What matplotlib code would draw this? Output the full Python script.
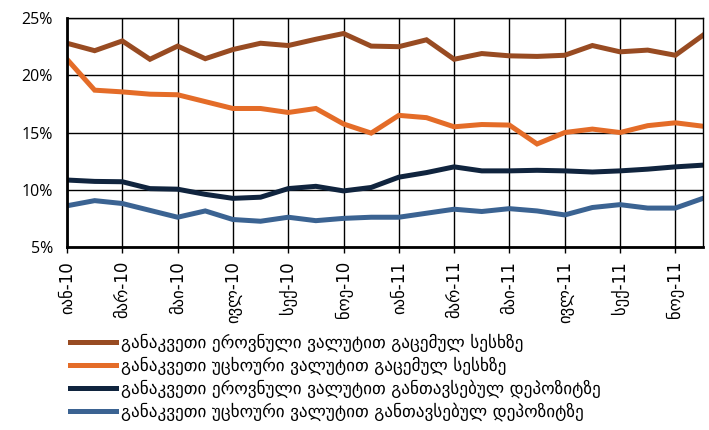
import matplotlib
matplotlib.use('Agg')
import matplotlib.pyplot as plt
import matplotlib.ticker as mt
import numpy as np

plt.rcParams['font.family'] = ['Open Sans', 'DejaVu Sans']

# monthly points, Jan-10 .. Dec-11
months = ['იან-10', 'თებ-10', 'მარ-10', 'აპრ-10', 'მაი-10', 'ივნ-10',
          'ივლ-10', 'აგვ-10', 'სექ-10', 'ოქტ-10', 'ნოე-10', 'დეკ-10',
          'იან-11', 'თებ-11', 'მარ-11', 'აპრ-11', 'მაი-11', 'ივნ-11',
          'ივლ-11', 'აგვ-11', 'სექ-11', 'ოქტ-11', 'ნოე-11', 'დეკ-11']

loans_gel = [22.8, 22.15, 23.0, 21.4, 22.55, 21.45, 22.25, 22.8, 22.6, 23.15, 23.65, 22.55,
             22.5, 23.1, 21.4, 21.9, 21.7, 21.65, 21.75, 22.6, 22.05, 22.2, 21.75, 23.5]
loans_fx = [21.4, 18.7, 18.55, 18.35, 18.3, 17.7, 17.1, 17.1, 16.75, 17.1, 15.75, 14.95,
            16.5, 16.3, 15.5, 15.7, 15.65, 14.0, 15.0, 15.3, 15.0, 15.6, 15.85, 15.55]
dep_gel = [10.85, 10.73, 10.7, 10.1, 10.05, 9.6, 9.25, 9.35, 10.1, 10.3, 9.9, 10.2,
           11.1, 11.5, 12.0, 11.65, 11.65, 11.7, 11.65, 11.55, 11.65, 11.8, 12.0, 12.15]
dep_fx = [8.6, 9.05, 8.8, 8.2, 7.6, 8.15, 7.4, 7.25, 7.6, 7.3, 7.5, 7.6,
          7.6, 7.95, 8.3, 8.1, 8.35, 8.15, 7.8, 8.45, 8.7, 8.4, 8.4, 9.25]

labels = ['განაკვეთი ეროვნული ვალუტით გაცემულ სესხზე',
          'განაკვეთი უცხოური ვალუტით გაცემულ სესხზე',
          'განაკვეთი ეროვნული ვალუტით განთავსებულ დეპოზიტზე',
          'განაკვეთი უცხოური ვალუტით განთავსებულ დეპოზიტზე']
colors = ['#984B22', '#E46C28', '#10243E', '#3B6392']

fig = plt.figure(figsize=(7.09, 4.30), dpi=100)
ax = fig.add_axes([0.0945, 0.4256, 0.897, 0.5324])

x = np.arange(len(months))
for ys, lab, c in zip([loans_gel, loans_fx, dep_gel, dep_fx], labels, colors):
    ax.plot(x, ys, color=c, lw=3.6, label=lab, solid_joinstyle='miter')

ax.set_xlim(0, len(months) - 1)
ax.set_ylim(5, 25)
ax.set_yticks([5, 10, 15, 20, 25])
ax.yaxis.set_major_formatter(mt.FuncFormatter(lambda v, p: '%d%%' % v))
ax.set_xticks(x[::2])
ax.set_xticklabels(months[::2], rotation=90, fontsize=12, family='DejaVu Sans')
ax.tick_params(axis='y', length=0, labelsize=11.5, pad=10)
ax.tick_params(axis='x', length=4, width=1, pad=6)
ax.grid(True, color='black', lw=1)
ax.set_axisbelow(True)
for s in ['top', 'right']:
    ax.spines[s].set_linewidth(1)
for s in ['left', 'bottom']:
    ax.spines[s].set_linewidth(2)

fig.legend(loc='upper left', bbox_to_anchor=(0.099, 0.223), frameon=False,
           handlelength=2.7, borderpad=0, borderaxespad=0, labelspacing=0.26,
           handletextpad=0.25, prop={'family': 'DejaVu Sans', 'size': 12.3})

fig.savefig('out.png', dpi=100)
